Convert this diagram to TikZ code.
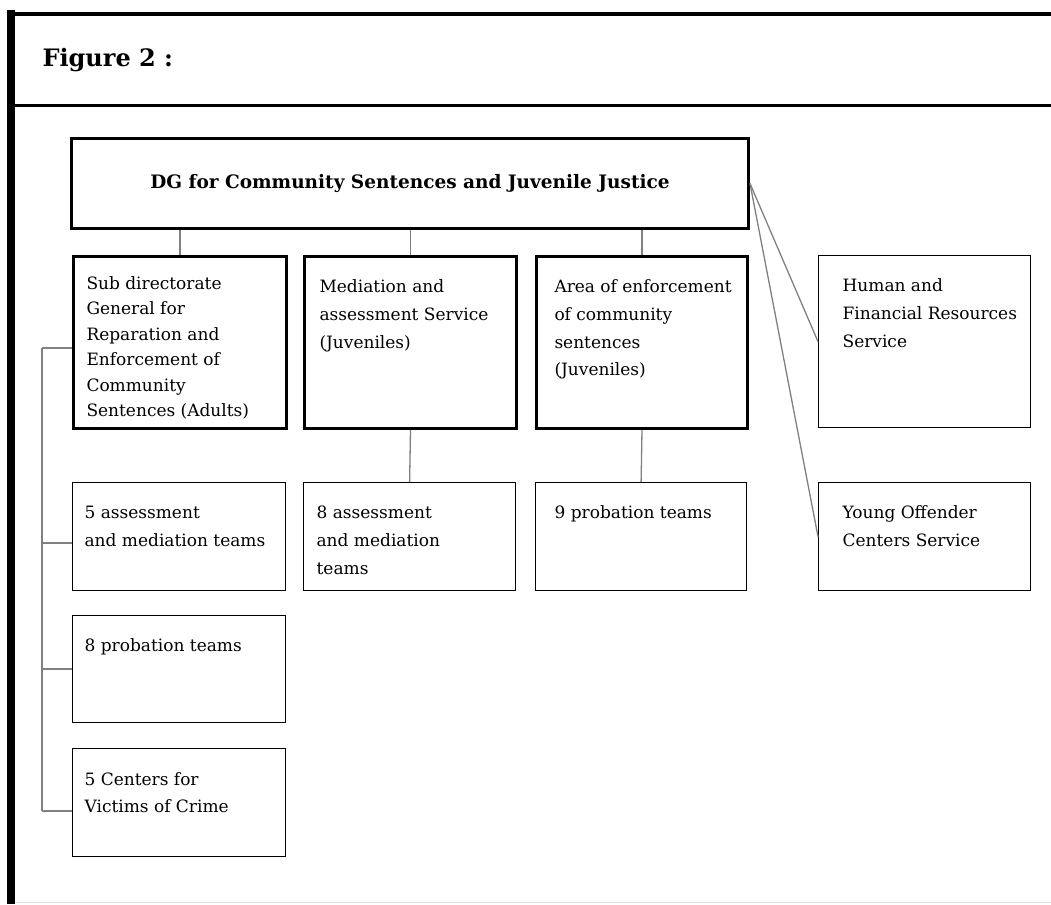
\documentclass[tikz,border=0pt]{standalone}
\usepackage{fontspec}
\setmainfont{DejaVu Serif}

\newcommand{\boxtxt}[5][17pt]{\parbox[c][#3pt][t]{#2pt}{\raggedright\leftskip=#4pt\relax\vspace*{#1}\strut#5}}

\tikzset{
  unit/.style={draw, line width=1.2pt, inner sep=0pt, anchor=north west,
    font=\fontsize{17}{27.7}\selectfont},
  mainunit/.style={unit, line width=3pt},
  link/.style={draw=gray, line width=1.3pt},
}

\begin{document}
\begin{tikzpicture}[x=1pt, y=-1pt]
\useasboundingbox (0,0) rectangle (1051,904);

\def\colw{212}
\def\toph{172}
\def\lowh{108}

\draw[line width=7.5pt] (11,10) -- (11,904);
\draw[line width=4.5pt] (7,14) -- (1051,14);
\draw[line width=2.5pt] (11,105.5) -- (1051,105.5);
\draw[black!12, line width=1pt] (15,902) -- (1051,902);

\node[anchor=base west, font=\bfseries\fontsize{24}{28}\selectfont] (fig) at (39,67) {Figure 2 :};

\node[mainunit, minimum width=677pt, minimum height=90pt,
  font=\bfseries\fontsize{18.5}{22}\selectfont] (dg) at (70,137)
  {DG for Community Sentences and Juvenile Justice};

\node[mainunit, font=\fontsize{17}{25.5}\selectfont] (sub) at (72,255) {\boxtxt[15pt]{213}{\toph}{13}{Sub directorate\\General for\\Reparation and\\Enforcement of\\Community\\Sentences (Adults)}};
\node[mainunit] (med) at (303,255) {\boxtxt{\colw}{\toph}{15}{Mediation and\\assessment Service\\(Juveniles)}};
\node[mainunit] (area) at (535,255) {\boxtxt{211}{\toph}{18}{Area of enforcement\\of community\\sentences\\(Juveniles)}};
\node[unit] (hum) at (818,255) {\boxtxt{\colw}{\toph}{24}{Human and\\Financial Resources\\Service}};

\node[unit] (asA) at (72,482) {\boxtxt{213}{\lowh}{12}{5 assessment\\and mediation teams}};
\node[unit] (asJ) at (303,482) {\boxtxt{\colw}{\lowh}{13}{8 assessment\\and mediation\\teams}};
\node[unit] (prJ) at (535,482) {\boxtxt{211}{\lowh}{19}{9 probation teams}};
\node[unit] (yoc) at (818,482) {\boxtxt{\colw}{\lowh}{24}{Young Offender\\Centers Service}};

\node[unit] (prA) at (72,615) {\boxtxt{213}{107}{12}{8 probation teams}};
\node[unit] (vic) at (72,748) {\boxtxt{213}{\lowh}{12}{5 Centers for\\Victims of Crime}};

\draw[link] (dg.south -| sub.north) -- (sub.north);
\draw[link] (dg.south -| med.north) -- (med.north);
\draw[link] (dg.south -| area.north) -- (area.north);
\draw[link] (med.south) -- (asJ.north);
\draw[link] (area.south) -- (prJ.north);
\draw[link] (dg.east) -- (hum.west);
\draw[link] (dg.east) -- (yoc.west);

\coordinate (tap1) at (42,348);
\coordinate (tap2) at (42,543);
\coordinate (tap3) at (42,669);
\coordinate (tap4) at (42,811);
\draw[link] (tap1) -- (tap4);
\foreach \t/\n in {1/sub,2/asA,3/prA,4/vic}
  \draw[link] (tap\t) -- (tap\t -| \n.west);
\end{tikzpicture}
\end{document}
